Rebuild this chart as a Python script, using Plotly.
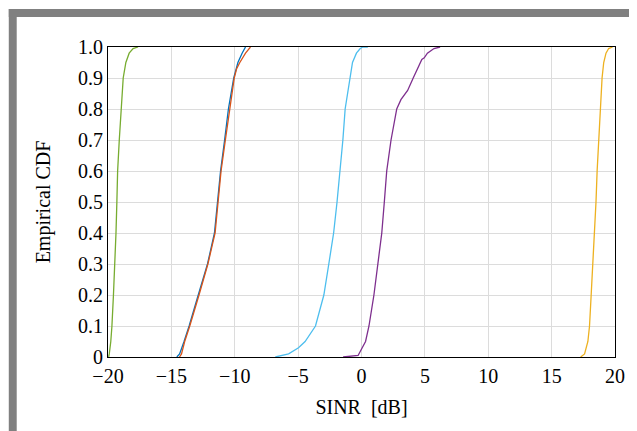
import plotly.graph_objects as go

# ---- data ----
green_cdf = [0, 0.01, 0.05, 0.1, 0.2, 0.3, 0.4, 0.5, 0.6, 0.7, 0.8, 0.9, 0.95, 0.98, 0.995, 1.0]
green_x = [-19.95, -19.9, -19.78, -19.69, -19.57, -19.45, -19.37, -19.3, -19.24, -19.11, -18.98, -18.8, -18.59, -18.33, -18.02, -17.63]

blue_cdf = [0, 0.01, 0.05, 0.1, 0.2, 0.3, 0.4, 0.5, 0.6, 0.7, 0.8, 0.9, 0.95, 0.98, 0.995, 1.0]
blue_x = [-14.57, -14.35, -14.0, -13.6, -12.88, -12.15, -11.6, -11.35, -11.12, -10.8, -10.5, -10.08, -9.75, -9.42, -9.25, -9.15]

orange_cdf = [0, 0.01, 0.05, 0.1, 0.2, 0.3, 0.4, 0.5, 0.6, 0.7, 0.8, 0.9, 0.93, 0.95, 0.98, 0.995, 1.0]
orange_x = [-14.36, -14.2, -13.95, -13.55, -12.82, -12.12, -11.55, -11.32, -11.08, -10.74, -10.42, -10.04, -9.85, -9.6, -9.15, -8.9, -8.76]

lightblue_cdf = [0, 0.01, 0.03, 0.05, 0.1, 0.2, 0.3, 0.4, 0.5, 0.6, 0.7, 0.8, 0.9, 0.95, 0.98, 0.995, 1.0, 1.0]
lightblue_x = [-6.8, -5.75, -4.97, -4.45, -3.63, -2.97, -2.58, -2.2, -1.93, -1.67, -1.47, -1.29, -0.94, -0.71, -0.4, -0.1, 0.1, 0.5]

purple_cdf = [0, 0.005, 0.05, 0.1, 0.2, 0.3, 0.4, 0.5, 0.6, 0.7, 0.8, 0.83, 0.86, 0.9, 0.93, 0.96, 0.965, 0.98, 0.995, 1.0]
purple_x = [-1.45, -0.27, 0.32, 0.59, 0.98, 1.29, 1.6, 1.8, 1.99, 2.33, 2.78, 3.11, 3.64, 4.08, 4.42, 4.76, 4.95, 5.2, 5.72, 6.2]

yellow_cdf = [0, 0.01, 0.05, 0.1, 0.2, 0.3, 0.4, 0.5, 0.6, 0.7, 0.8, 0.9, 0.95, 0.98, 0.995, 1.0]
yellow_x = [17.29, 17.6, 17.86, 17.99, 18.12, 18.25, 18.41, 18.5, 18.59, 18.72, 18.85, 18.98, 19.11, 19.29, 19.5, 19.81]

x_tickvals = [-20, -15, -10, -5, 0, 5, 10, 15, 20]
x_ticktext = ["\u221220", "\u221215", "\u221210", "\u22125", "0", "5", "10", "15", "20"]
y_tickvals = [0, 0.1, 0.2, 0.3, 0.4, 0.5, 0.6, 0.7, 0.8, 0.9, 1.0]
y_ticktext = ["0", "0.1", "0.2", "0.3", "0.4", "0.5", "0.6", "0.7", "0.8", "0.9", "1.0"]

series = [
    (green_x, green_cdf, "#77AC30"),
    (blue_x, blue_cdf, "#0072BD"),
    (orange_x, orange_cdf, "#D95319"),
    (lightblue_x, lightblue_cdf, "#4DBEEE"),
    (purple_x, purple_cdf, "#7E2F8E"),
    (yellow_x, yellow_cdf, "#EDB120"),
]

fig = go.Figure()
for xs, ys, col in series:
    fig.add_trace(go.Scatter(x=xs, y=ys, mode="lines",
                             line=dict(color=col, width=1.3), showlegend=False))

# the page body adds an 8px margin, so the figure is 629x423 placed at (8, 8)
W, H = 629, 423
L, R, T, B = 100, 18, 39, 74
pw, ph = W - L - R, H - T - B

def px(xp):
    return (xp - L) / pw

def py(yp):
    return (H - B - yp) / ph

gray = "#808080"
shapes = [
    dict(type="rect", xref="paper", yref="paper", x0=px(0), x1=px(8), y0=py(1), y1=py(H),
         fillcolor=gray, line=dict(width=0), layer="above"),
    dict(type="rect", xref="paper", yref="paper", x0=px(0), x1=px(W), y0=py(1), y1=py(9),
         fillcolor=gray, line=dict(width=0), layer="above"),
    dict(type="rect", xref="paper", yref="paper", x0=px(W - 2), x1=px(W), y0=py(1), y1=py(H),
         fillcolor=gray, line=dict(width=0), layer="above"),
]

font = "Liberation Serif, Times New Roman"
fig.update_layout(
    width=W, height=H,
    margin=dict(l=L, r=R, t=T, b=B),
    paper_bgcolor="white", plot_bgcolor="white",
    font=dict(family=font, size=20, color="black"),
    shapes=shapes,
    xaxis=dict(range=[-20, 20], tickvals=x_tickvals, ticktext=x_ticktext,
               showgrid=True, gridcolor="#dcdcdc", gridwidth=1,
               showline=True, linecolor="black", linewidth=1.2, mirror=True,
               ticks="", zeroline=False, ticklabelstandoff=1,
               tickfont=dict(family=font, size=20),
               title=dict(text="SINR  [dB]", font=dict(family=font, size=20), standoff=13)),
    yaxis=dict(range=[0, 1], tickvals=y_tickvals, ticktext=y_ticktext,
               showgrid=True, gridcolor="#dcdcdc", gridwidth=1,
               showline=True, linecolor="black", linewidth=1.2, mirror=True,
               ticks="", zeroline=False, ticklabelstandoff=0,
               tickfont=dict(family=font, size=20),
               title=dict(text="Empirical CDF", font=dict(family=font, size=20), standoff=21)),
)

fig.write_html("out.html")
